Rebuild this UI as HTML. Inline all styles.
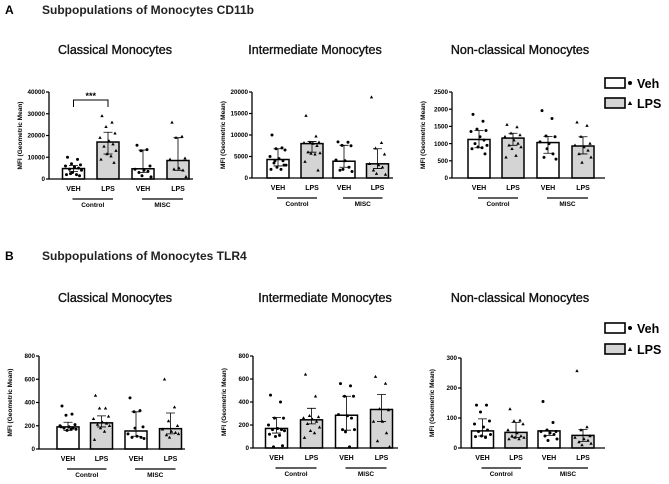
<!DOCTYPE html>
<html><head><meta charset="utf-8"><style>
body{margin:0;background:#fff}
svg{display:block;font-family:"Liberation Sans",Arial,sans-serif}
</style></head><body>
<svg id="fig" width="669" height="484" viewBox="0 0 669 484">
<text x="5" y="14" font-size="12" font-weight="bold">A</text>
<text x="42" y="14" font-size="12" font-weight="bold" fill="#222">Subpopulations of Monocytes CD11b</text>
<text x="5" y="260" font-size="12" font-weight="bold">B</text>
<text x="42" y="260" font-size="12" font-weight="bold" fill="#222">Subpopulations of Monocytes TLR4</text>
<g>
<rect x="605" y="78" width="20" height="10" fill="#fff" stroke="#000" stroke-width="1.6"/>
<circle cx="630" cy="83" r="2" fill="#000"/>
<text x="637" y="88" font-size="12.5" font-weight="bold">Veh</text>
<rect x="605" y="98" width="20" height="10" fill="#d4d4d4" stroke="#000" stroke-width="1.6"/>
<path d="M630,101 L632.2,105 L627.8,105Z" fill="#000"/>
<text x="637" y="108" font-size="12.5" font-weight="bold">LPS</text>
</g>
<g>
<rect x="605" y="323" width="20" height="10" fill="#fff" stroke="#000" stroke-width="1.6"/>
<circle cx="630" cy="328" r="2" fill="#000"/>
<text x="637" y="333" font-size="12.5" font-weight="bold">Veh</text>
<rect x="605" y="344" width="20" height="10" fill="#d4d4d4" stroke="#000" stroke-width="1.6"/>
<path d="M630,347 L632.2,351 L627.8,351Z" fill="#000"/>
<text x="637" y="354" font-size="12.5" font-weight="bold">LPS</text>
</g>
<g>
<path d="M73.5,107 V100 H108 V107" fill="none" stroke="#000" stroke-width="1"/>
<text x="90.7" y="99" font-size="9" font-weight="bold" text-anchor="middle">***</text>
</g>
</svg>
<script>
const categories = ["VEH","LPS","VEH","LPS"];
const groups = ["Control","MISC"];
// Panel A1 Classical CD11b
const a1Ticks = [0,10000,20000,30000,40000];
const a1Means = [4800,17000,4700,8500];
const a1ErrLo = [3500,11500,3000,4000];
const a1ErrHi = [6200,21500,13300,19000];
const a1Pts0 = [10000,9000,7000,6500,6000,5500,5000,4500,4000,3000,2000,2000,1500,2500];
const a1Pts1 = [29000,26000,24000,21000,19000,17500,16000,15000,13000,11500,10500,9000,7500];
const a1Pts2 = [15500,13500,13000,6000,4500,4000,3500,3000,1000,1500];
const a1Pts3 = [26000,19500,19000,9500,9000,5000,4000,4500,1000];
// Panel A2 Intermediate CD11b
const a2Ticks = [0,5000,10000,15000,20000];
const a2Means = [4300,8000,3900,3300];
const a2ErrLo = [2800,6000,2500,2200];
const a2ErrHi = [6800,8500,7600,6800];
const a2Pts0 = [10000,7000,6800,6500,5000,4500,4000,3500,3000,2500,2000,2000,3000,4000];
const a2Pts1 = [14500,9700,8300,8300,8200,8000,7500,6000,5800,5700,5500,3800,1800];
const a2Pts2 = [8400,8300,7600,7500,4200,4000,2500,1800,1500,2000];
const a2Pts3 = [18800,8200,6900,5500,3300,3000,2500,1800,800,1000];
// Panel A3 Non-classical CD11b
const a3Ticks = [0,500,1000,1500,2000,2500];
const a3Means = [1120,1160,1030,930];
const a3ErrLo = [880,950,720,700];
const a3ErrHi = [1380,1300,1210,1200];
const a3Pts0 = [1850,1650,1420,1380,1350,1200,1100,1000,950,900,880,850,700];
const a3Pts1 = [1550,1480,1300,1250,1200,1100,1000,950,900,850,650,600];
const a3Pts2 = [1960,1730,1220,1200,1050,1000,700,600,550,850];
const a3Pts3 = [1620,1520,1200,1000,950,900,800,700,600,450];
// Panel B1 Classical TLR4
const b1Ticks = [0,200,400,600,800];
const b1Means = [190,225,155,175];
const b1ErrLo = [160,190,110,130];
const b1ErrHi = [230,285,320,310];
const b1Pts0 = [370,300,290,210,200,190,180,180,170,160,170,190];
const b1Pts1 = [460,350,350,280,260,230,220,210,200,180,150,80];
const b1Pts2 = [440,330,320,190,130,110,100,100,90,180];
const b1Pts3 = [600,360,240,200,170,150,140,120,130,100];
// Panel B2 Intermediate TLR4
const b2Ticks = [0,200,400,600,800];
const b2Means = [170,245,285,335];
const b2ErrLo = [130,210,155,230];
const b2ErrHi = [265,345,450,465];
const b2Pts0 = [460,400,260,260,200,170,160,160,150,100,110,120,20,10];
const b2Pts1 = [640,450,280,270,260,250,230,210,180,150,130,90];
const b2Pts2 = [560,540,450,450,290,280,260,160,160,140,10];
const b2Pts3 = [620,560,340,330,230,230,130,60,10];
// Panel B3 Non-classical TLR4
const b3Ticks = [0,100,200,300];
const b3Means = [57,52,57,42];
const b3ErrLo = [40,35,42,22];
const b3ErrHi = [97,85,58,62];
const b3Pts0 = [143,143,120,90,80,70,60,55,45,40,35,38];
const b3Pts1 = [130,92,90,80,60,50,40,40,35,35,30,30];
const b3Pts2 = [155,85,60,55,55,50,45,40,30,25];
const b3Pts3 = [257,70,60,40,35,30,25,20,15,10];

const NS="http://www.w3.org/2000/svg";
const svg=document.getElementById("fig");
function mk(tag,attrs,parent){const e=document.createElementNS(NS,tag);for(const k in attrs)e.setAttribute(k,attrs[k]);(parent||svg).appendChild(e);return e;}

const panels=[
 {id:"a1",title:"Classical Monocytes",tx:115,ty:54,ax:49,yt:92,yb:179,xe:193,cx:[73.5,108,143,178],ticks:a1Ticks,means:a1Means,lo:a1ErrLo,hi:a1ErrHi,pts:[a1Pts0,a1Pts1,a1Pts2,a1Pts3]},
 {id:"a2",title:"Intermediate Monocytes",tx:315,ty:54,ax:252,yt:92,yb:178,xe:393,cx:[278,312,344,377.5],ticks:a2Ticks,means:a2Means,lo:a2ErrLo,hi:a2ErrHi,pts:[a2Pts0,a2Pts1,a2Pts2,a2Pts3]},
 {id:"a3",title:"Non-classical Monocytes",tx:520,ty:54,ax:452,yt:92,yb:178,xe:605,cx:[479,513,548,583],ticks:a3Ticks,means:a3Means,lo:a3ErrLo,hi:a3ErrHi,pts:[a3Pts0,a3Pts1,a3Pts2,a3Pts3]},
 {id:"b1",title:"Classical Monocytes",tx:115,ty:302,ax:39,yt:356,yb:449,xe:185,cx:[68,101.5,136,170.5],ticks:b1Ticks,means:b1Means,lo:b1ErrLo,hi:b1ErrHi,pts:[b1Pts0,b1Pts1,b1Pts2,b1Pts3]},
 {id:"b2",title:"Intermediate Monocytes",tx:325,ty:302,ax:253,yt:356,yb:448,xe:398,cx:[276.5,311.5,346.5,381.5],ticks:b2Ticks,means:b2Means,lo:b2ErrLo,hi:b2ErrHi,pts:[b2Pts0,b2Pts1,b2Pts2,b2Pts3]},
 {id:"b3",title:"Non-classical Monocytes",tx:520,ty:302,ax:461,yt:358,yb:448,xe:605,cx:[482.5,516,549,583],ticks:b3Ticks,means:b3Means,lo:b3ErrLo,hi:b3ErrHi,pts:[b3Pts0,b3Pts1,b3Pts2,b3Pts3]}
];
const jit=[-6,4,-2,7,-8,1,5,-4,8,-1,3,-7,6,-3];
panels.forEach(p=>{
 const g=mk("g",{});
 
 
 const maxV=p.ticks[p.ticks.length-1];
 const y=v=>p.yb-(v/maxV)*(p.yb-p.yt);
 const t=mk("text",{x:p.tx,y:p.ty,"font-size":12.5,"text-anchor":"middle",fill:"#111",stroke:"#111","stroke-width":0.35},g);t.textContent=p.title;
 
 
 const yl=mk("text",{x:0,y:0,"font-size":6.5,"font-weight":"bold","text-anchor":"middle",transform:`translate(${p.ax-27},${(p.yt+p.yb)/2}) rotate(-90)`},g);yl.textContent="MFI (Geometric Mean)";
 
 
 const bw=22;
 p.means.forEach((m,i)=>{
  const r=mk("rect",{x:p.cx[i]-bw/2,y:y(m),width:bw,height:p.yb-y(m),fill:i%2?"#d4d4d4":"#fff",stroke:"#000","stroke-width":1.5},g);
  
  
 });
 p.means.forEach((m,i)=>{
  const cx=p.cx[i];
  const e=mk("path",{d:`M${cx},${y(p.lo[i])}V${y(p.hi[i])}M${cx-4.5},${y(p.hi[i])}H${cx+4.5}M${cx-4.5},${y(p.lo[i])}H${cx+4.5}`,stroke:"#000","stroke-width":0.8,fill:"none"},g);
  
  
  p.pts[i].forEach((v,k)=>{
   const px=cx+jit[k%jit.length],py=y(v);
   let s;
   if(i%2===0) s=mk("circle",{cx:px,cy:py,r:1.5,fill:"#000"},g);
   else s=mk("path",{d:`M${px},${py-1.8}L${px+1.7},${py+1.2}L${px-1.7},${py+1.2}Z`,fill:"#000"},g);
   
   
  });
 });
 const ax=mk("path",{d:`M${p.ax},${p.yt}V${p.yb}H${p.xe}`,stroke:"#000","stroke-width":1.3,fill:"none"},g);
 
 
 p.ticks.forEach(tv=>{
  mk("line",{x1:p.ax-3,x2:p.ax,y1:y(tv),y2:y(tv),stroke:"#000","stroke-width":1.2},g);
  const tl=mk("text",{x:p.ax-4,y:y(tv)+2.2,"font-size":6.3,"font-weight":"bold","text-anchor":"end"},g);tl.textContent=tv;
  
  
 });
 categories.forEach((c,i)=>{
  const cl=mk("text",{x:p.cx[i],y:p.yb+12,"font-size":7,"font-weight":"bold","text-anchor":"middle"},g);cl.textContent=c;
  
  
 });
 groups.forEach((gn,j)=>{
  const a=p.cx[2*j]-1,b=p.cx[2*j+1]+5;
  mk("line",{x1:a,x2:b,y1:p.yb+20,y2:p.yb+20,stroke:"#000","stroke-width":1.2},g);
  const gl=mk("text",{x:(a+b)/2,y:p.yb+28,"font-size":6.5,"font-weight":"bold","text-anchor":"middle"},g);gl.textContent=gn;
  
  
 });
});
</script>
</body></html>
